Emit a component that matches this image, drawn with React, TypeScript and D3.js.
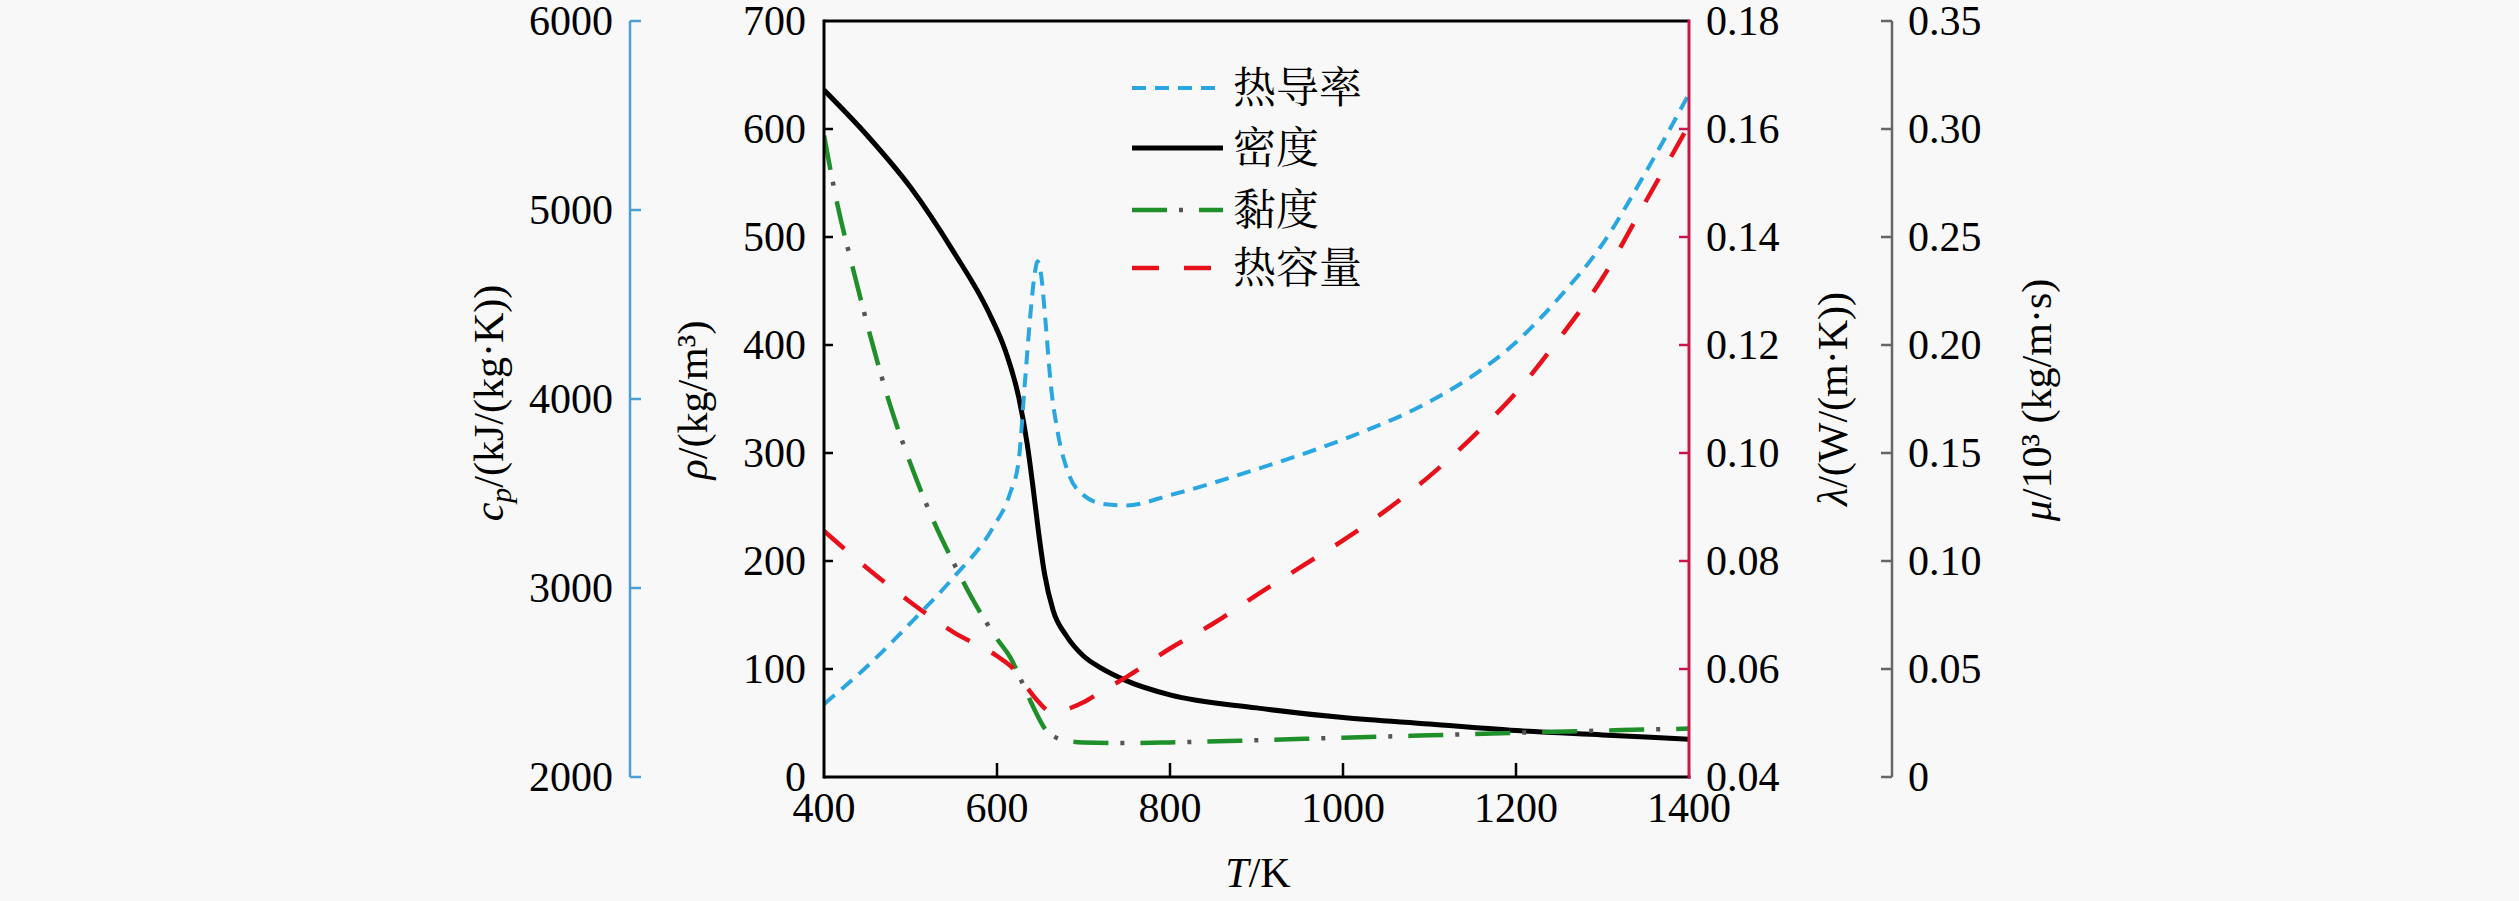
import React from "react";
import * as d3 from "d3";

// ---------- data ----------
const tempTicks = [400, 600, 800, 1000, 1200, 1400];
const densityTicks = [0, 100, 200, 300, 400, 500, 600, 700];
const cpTicks = [2000, 3000, 4000, 5000, 6000];
const lambdaTicks = [0.04, 0.06, 0.08, 0.1, 0.12, 0.14, 0.16, 0.18];
const muTicks = [0, 0.05, 0.1, 0.15, 0.2, 0.25, 0.3, 0.35];

// density ρ (kg/m³)
const densityT = [400, 450, 500, 550, 590, 610, 625, 635, 642, 648, 655, 665, 680, 700, 720, 750, 800, 900, 1000, 1100, 1200, 1300, 1400];
const densityVals = [636, 594, 546, 486, 431, 394, 352, 308, 266, 227, 188, 154, 131, 112, 101, 89, 76, 64, 55, 49, 43, 39, 35];

// thermal conductivity λ (W/(m·K))
const condT = [400, 450, 500, 550, 595, 615, 625, 632, 638, 643, 647, 651, 656, 662, 670, 682, 700, 725, 750, 800, 900, 1000, 1100, 1150, 1200, 1250, 1300, 1350, 1400];
const condVals = [0.0535, 0.0605, 0.0685, 0.077, 0.0861, 0.0925, 0.0985, 0.1125, 0.1245, 0.1325, 0.1355, 0.133, 0.1245, 0.113, 0.104, 0.0965, 0.0922, 0.0905, 0.0903, 0.0922, 0.097, 0.1025, 0.1095, 0.1143, 0.1205, 0.1288, 0.1387, 0.152, 0.1665];

// viscosity μ/10³ (kg/(m·s))
const viscT = [400, 415, 435, 455, 475, 500, 525, 550, 575, 600, 615, 630, 640, 648, 656, 665, 680, 700, 750, 800, 900, 1000, 1100, 1200, 1300, 1400];
const viscVals = [0.297, 0.266, 0.233, 0.202, 0.174, 0.145, 0.12, 0.099, 0.08, 0.064, 0.0556, 0.043, 0.034, 0.0275, 0.022, 0.019, 0.0168, 0.016, 0.0157, 0.016, 0.017, 0.0182, 0.0193, 0.0205, 0.0215, 0.0224];

// heat capacity cp (kJ/(kg·K))
const cpT = [400, 450, 500, 550, 600, 620, 635, 648, 660, 670, 685, 700, 720, 750, 800, 850, 900, 950, 1000, 1050, 1100, 1150, 1200, 1250, 1300, 1350, 1400];
const cpVals = [3302, 3105, 2925, 2765, 2640, 2568, 2472, 2398, 2350, 2345, 2365, 2395, 2450, 2530, 2680, 2812, 2962, 3108, 3252, 3412, 3592, 3800, 4033, 4320, 4640, 5045, 5450];

const legendLabels = ["热导率", "密度", "黏度", "热容量"];

// ---------- styling ----------
const SERIF = "Liberation Serif";
const CJK = "Noto Serif CJK SC";
const FS = 42;
const C_COND = "#2aa6e0";
const C_DENS = "#000000";
const C_VISC = "#1f8f2a";
const C_VISC_DOT = "#555555";
const C_CP = "#e8101a";
const C_CP_AXIS = "#4aa0d6";
const C_LAM_AXIS = "#c8174a";
const C_MU_AXIS = "#666666";

export default function App() {
  const W = 2519;
  const H = 901;
  const left = 824;
  const right = 1689;
  const top = 21;
  const bottom = 777;
  const cpAxisX = 630;
  const muAxisX = 1892;

  const x = d3.scaleLinear().domain([400, 1400]).range([left, right]);
  const yRho = d3.scaleLinear().domain([0, 700]).range([bottom, top]);
  const yCp = d3.scaleLinear().domain([2000, 6000]).range([bottom, top]);
  const yLam = d3.scaleLinear().domain([0.04, 0.18]).range([bottom, top]);
  const yMu = d3.scaleLinear().domain([0, 0.35]).range([bottom, top]);

  const mk = (xs: number[], ys: number[], sc: d3.ScaleLinear<number, number>) =>
    d3
      .line<number>()
      .x((_, i) => x(xs[i]))
      .y((d) => sc(d))
      .curve(d3.curveMonotoneX)(ys) || "";

  const densPath = mk(densityT, densityVals, yRho);
  const condPath = mk(condT, condVals, yLam);
  const viscPath = mk(viscT, viscVals, yMu);
  const cpPath = mk(cpT, cpVals, yCp);

  const fmtLam = d3.format(".2f");
  const fmtMu = (v: number) => (v === 0 ? "0" : v.toFixed(2));

  const legX0 = 1132;
  const legX1 = 1223;
  const legTextX = 1233;
  const legRows = [88, 148, 210, 268];

  const lineStyles = [
    { stroke: C_COND, width: 4, dash: "14 9" },
    { stroke: C_DENS, width: 5, dash: "" },
    { stroke: C_VISC, width: 4.5, dash: "35 32" },
    { stroke: C_CP, width: 4.5, dash: "27 25" },
  ];

  const abs = { position: "absolute" as const, left: 0, top: 0 };

  return (
    <div style={{ position: "absolute", left: 0, top: 0, width: W, height: H }}>
      {/* marks layer */}
      <svg width={W} height={H} style={abs}>
        <rect x={0} y={0} width={W} height={H} fill="#f8f8f8" />
        <defs>
          <clipPath id="plotClip">
            <rect x={left} y={top} width={right - left} height={bottom - top} />
          </clipPath>
        </defs>

        <g clipPath="url(#plotClip)" fill="none" strokeLinejoin="round">
          <path d={densPath} stroke={C_DENS} strokeWidth={5} />
          <path d={condPath} stroke={C_COND} strokeWidth={4} strokeDasharray="14 9" />
          <path d={viscPath} stroke={C_VISC} strokeWidth={4.5} strokeDasharray="35 32" />
          <path d={viscPath} stroke={C_VISC_DOT} strokeWidth={4.5} strokeDasharray="0 47 4 16" />
          <path d={cpPath} stroke={C_CP} strokeWidth={4.5} strokeDasharray="27 25" />
        </g>

        {/* frame */}
        <line x1={left} x2={right} y1={top} y2={top} stroke="#000" strokeWidth={3} />
        <line x1={left} x2={right + 1.5} y1={bottom} y2={bottom} stroke="#000" strokeWidth={3} />
        <line x1={left} x2={left} y1={top - 1.5} y2={bottom + 1.5} stroke="#000" strokeWidth={3} />
        <line x1={right} x2={right} y1={top - 1.5} y2={bottom + 1.5} stroke={C_LAM_AXIS} strokeWidth={3} />

        {/* ticks */}
        {tempTicks
          .filter((t) => t > 400 && t < 1400)
          .map((t) => (
            <line key={"xt" + t} x1={x(t)} x2={x(t)} y1={bottom} y2={bottom - 14} stroke="#000" strokeWidth={2.5} />
          ))}
        {densityTicks
          .filter((v) => v > 0 && v < 700)
          .map((v) => (
            <line key={"rt" + v} x1={left} x2={left + 9} y1={yRho(v)} y2={yRho(v)} stroke="#000" strokeWidth={2.5} />
          ))}
        <line x1={cpAxisX} x2={cpAxisX} y1={top} y2={bottom} stroke={C_CP_AXIS} strokeWidth={2.5} />
        {cpTicks.map((v) => (
          <line key={"ct" + v} x1={cpAxisX} x2={cpAxisX + 11} y1={yCp(v)} y2={yCp(v)} stroke={C_CP_AXIS} strokeWidth={2.5} />
        ))}
        {lambdaTicks.slice(1, -1).map((v, i) => (
          <line key={"lt" + i} x1={right} x2={right - 10} y1={yLam(v)} y2={yLam(v)} stroke={C_LAM_AXIS} strokeWidth={2.5} />
        ))}
        <line x1={muAxisX} x2={muAxisX} y1={top} y2={bottom} stroke={C_MU_AXIS} strokeWidth={2.5} />
        {muTicks.map((v, i) => (
          <line key={"mt" + i} x1={muAxisX} x2={muAxisX - 11} y1={yMu(v)} y2={yMu(v)} stroke={C_MU_AXIS} strokeWidth={2.5} />
        ))}

        {/* legend lines */}
        {lineStyles.map((st, i) => (
          <g key={"ll" + i}>
            <line
              x1={legX0}
              x2={legX1}
              y1={legRows[i]}
              y2={legRows[i]}
              stroke={st.stroke}
              strokeWidth={st.width}
              strokeDasharray={st.dash || undefined}
            />
            {i === 2 && (
              <line x1={legX0} x2={legX1} y1={legRows[i]} y2={legRows[i]} stroke={C_VISC_DOT} strokeWidth={4.5} strokeDasharray="0 47 4 16" />
            )}
          </g>
        ))}
      </svg>

      {/* tick label + legend text layer (plain texts only) */}
      <svg width={W} height={H} style={abs}>
        {tempTicks.map((t) => (
          <text key={"xl" + t} x={x(t)} y={bottom + 45} fontFamily={SERIF} fontSize={FS} textAnchor="middle">
            {String(t)}
          </text>
        ))}
        {densityTicks.map((v) => (
          <text key={"rl" + v} x={806} y={yRho(v) + 14} fontFamily={SERIF} fontSize={FS} textAnchor="end">
            {String(v)}
          </text>
        ))}
        {cpTicks.map((v) => (
          <text key={"cl" + v} x={613} y={yCp(v) + 14} fontFamily={SERIF} fontSize={FS} textAnchor="end">
            {String(v)}
          </text>
        ))}
        {lambdaTicks.map((v, i) => (
          <text key={"ll" + i} x={1706} y={yLam(v) + 14} fontFamily={SERIF} fontSize={FS} textAnchor="start">
            {fmtLam(v)}
          </text>
        ))}
        {muTicks.map((v, i) => (
          <text key={"ml" + i} x={1908} y={yMu(v) + 14} fontFamily={SERIF} fontSize={FS} textAnchor="start">
            {fmtMu(v)}
          </text>
        ))}
        {legendLabels.map((lab, i) => (
          <text key={"lg" + i} x={legTextX} y={legRows[i] + 15} fontFamily={CJK} fontSize={43}>
            {lab}
          </text>
        ))}
      </svg>

      {/* axis title layer */}
      <svg width={W} height={H} style={abs}>
        <text x={1258} y={887} fontFamily={SERIF} fontSize={FS} textAnchor="middle">
          <tspan fontStyle="italic">T</tspan>
          <tspan>/K</tspan>
        </text>
        <text transform="translate(707,400) rotate(-90)" fontFamily={SERIF} fontSize={FS} textAnchor="middle">
          <tspan fontStyle="italic">ρ</tspan>
          <tspan>/(kg/m³)</tspan>
        </text>
        <text transform="translate(503,403) rotate(-90)" fontFamily={SERIF} fontSize={FS} textAnchor="middle">
          <tspan fontStyle="italic">c</tspan>
          <tspan fontStyle="italic" fontSize={30} dy={8}>p</tspan>
          <tspan dy={-8}>/(kJ/(kg·K))</tspan>
        </text>
        <text transform="translate(1847,399) rotate(-90)" fontFamily={SERIF} fontSize={FS} textAnchor="middle">
          <tspan fontStyle="italic">λ</tspan>
          <tspan>/(W/(m·K))</tspan>
        </text>
        <text transform="translate(2051,400) rotate(-90)" fontFamily={SERIF} fontSize={FS} textAnchor="middle">
          <tspan fontStyle="italic">μ</tspan>
          <tspan>/10³ (kg/m·s)</tspan>
        </text>
      </svg>
    </div>
  );
}
